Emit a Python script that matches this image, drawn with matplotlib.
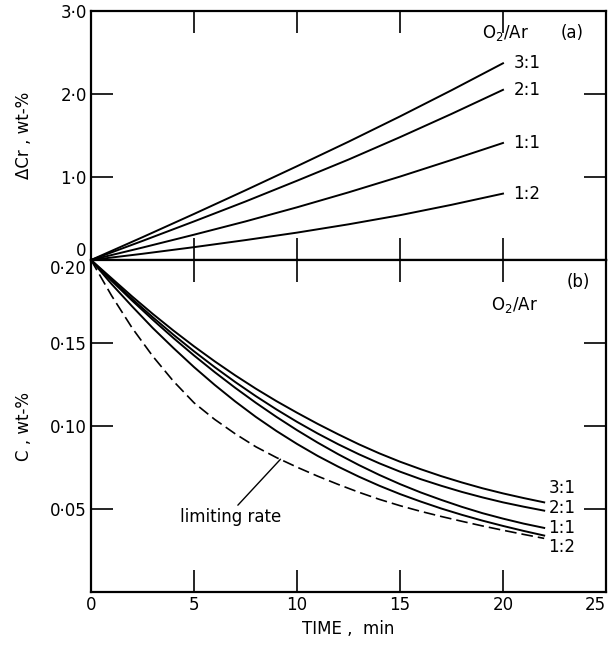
import numpy as np
import matplotlib.pyplot as plt

plt.rcParams['font.family'] = ['DejaVu Sans']
plt.rcParams['mathtext.fontset'] = 'dejavusans'

# (a) chromium loss vs time for each O2/Ar ratio
t_cr = [0, 2.5, 5, 7.5, 10, 12.5, 15, 17.5, 20]
cr_31 = [0, .275, .555, .840, 1.130, 1.425, 1.730, 2.045, 2.370]
cr_21 = [0, .230, .465, .705, .955, 1.210, 1.480, 1.760, 2.050]
cr_11 = [0, .150, .305, .465, .635, .815, 1.005, 1.205, 1.410]
cr_12 = [0, .075, .155, .240, .330, .430, .540, .665, .800]

# (b) carbon content vs time
t_c = list(range(23))
c_31 = [.200, .189, .178, .1675, .1575, .148, .139, .1305, .1225, .115, .108, .1013,
        .095, .089, .0835, .0785, .074, .0698, .066, .0625, .0594, .0566, .054]
c_21 = [.200, .188, .1765, .1655, .155, .145, .1355, .1265, .118, .110, .1025, .0955,
        .089, .083, .0775, .0725, .068, .064, .0603, .057, .054, .0514, .049]
c_11 = [.200, .1875, .1755, .164, .153, .1425, .1325, .123, .114, .1055, .0975, .090,
        .083, .0765, .0705, .065, .060, .0555, .0513, .0475, .0442, .0412, .0386]
c_12 = [.200, .1855, .172, .159, .147, .1355, .1248, .1148, .1055, .097, .0892, .082,
        .0755, .0695, .064, .059, .0545, .0503, .0465, .043, .0398, .0368, .034]
c_lim = [.200, .1785, .159, .142, .127, .114, .104, .0953, .0875, .081, .0752, .0698,
         .0648, .0601, .0558, .052, .0486, .0455, .0426, .0398, .0372, .0347, .0323]

ratios = ['3:1', '2:1', '1:1', '1:2']

fig = plt.figure(figsize=(6.08, 6.46), dpi=100)
ax1 = fig.add_axes([0.1497, 0.5975, 0.847, 0.3855])
ax2 = fig.add_axes([0.1497, 0.0836, 0.847, 0.5139])

lw = 1.4
fs = 12

for ax in (ax1, ax2):
    for s in ax.spines.values():
        s.set_linewidth(1.6)
    ax.set_xlim(0, 25)
    ax.tick_params(direction='in', length=16, width=1.2, labelsize=fs,
                   top=True, right=True, pad=3)

# top panel
for y, lab, ly in zip([cr_31, cr_21, cr_11, cr_12], ratios, [2.37, 2.05, 1.41, 0.80]):
    ax1.plot(t_cr, y, color='black', lw=lw)
    ax1.text(20.5, ly, lab, fontsize=fs, va='center', ha='left')
ax1.set_ylim(0, 3)
ax1.set_yticks([0, 1, 2, 3])
ax1.set_yticklabels(['0', '1·0', '2·0', '3·0'])
ax1.get_yticklabels()[0].set_va('bottom')
ax1.set_xticks([5, 10, 15, 20])
ax1.set_xticklabels([])
ax1.set_ylabel('ΔCr , wt-%', fontsize=fs)
ax1.yaxis.set_label_coords(-0.113, 0.5)
ax1.text(19.0, 2.73, r'O$_2$/Ar', fontsize=fs, va='center', ha='left')
ax1.text(22.8, 2.73, '(a)', fontsize=fs, va='center', ha='left')

# bottom panel
for y, lab, ly in zip([c_31, c_21, c_11, c_12], ratios, [0.0627, 0.0506, 0.0386, 0.0271]):
    ax2.plot(t_c, y, color='black', lw=lw)
    ax2.text(22.2, ly, lab, fontsize=fs, va='center', ha='left')
ax2.plot(t_c, c_lim, color='black', lw=1.2, dashes=(7, 3))
ax2.set_ylim(0, 0.20)
ax2.set_yticks([0.05, 0.10, 0.15, 0.20])
ax2.set_yticklabels(['0·05', '0·10', '0·15', '0·20'])
ax2.get_yticklabels()[-1].set_va('top')
ax2.set_xticks([0, 5, 10, 15, 20, 25])
ax2.set_xticklabels(['0', '5', '10', '15', '20', '25'])
ax2.get_xticklabels()[-1].set_ha('right')
ax2.set_xlabel('TIME ,  min', fontsize=fs, labelpad=4)
ax2.set_ylabel('C , wt-%', fontsize=fs)
ax2.yaxis.set_label_coords(-0.113, 0.5)
ax2.text(23.1, 0.1867, '(b)', fontsize=fs, va='center', ha='left')
ax2.text(19.4, 0.1729, r'O$_2$/Ar', fontsize=fs, va='center', ha='left')
ax2.annotate('limiting rate', xy=(9.2, 0.080), xytext=(4.3, 0.0452),
             fontsize=fs, va='center', ha='left',
             arrowprops=dict(arrowstyle='-', color='black', lw=1.0,
                             shrinkA=0, shrinkB=0, relpos=(0.55, 1.0)))

fig.savefig('out.png', dpi=100)
